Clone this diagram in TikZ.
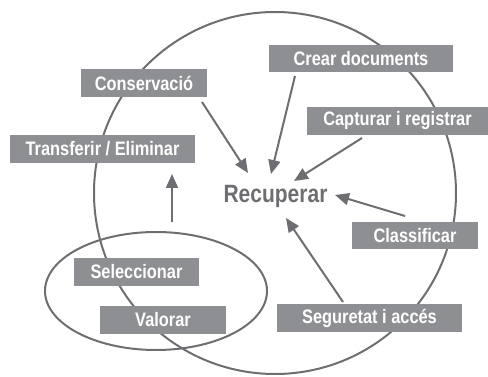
\documentclass[tikz,border=0pt]{standalone}
\usepackage{fontspec}
\setmainfont{Liberation Sans}[FakeStretch=0.84]
\usetikzlibrary{arrows.meta}
\definecolor{boxgray}{HTML}{8E8F92}
\definecolor{linegray}{HTML}{6D6E71}
\begin{document}
\begin{tikzpicture}[x=1pt,y=-1pt,
  lbl/.style={fill=boxgray,text=white,font=\fontsize{19.5}{21}\selectfont\bfseries,
    inner sep=0pt,minimum height=28pt,anchor=center},
  ring/.style={draw=linegray,line width=2pt},
  arr/.style={draw=linegray,line width=2pt,-{Triangle[length=14pt,width=12pt]}}]
\useasboundingbox (0,0) rectangle (488,377);
% outlines
\draw[ring] (275,193) circle[radius=181];
\draw[ring] (156,291) ellipse[x radius=111,y radius=59];
% labels
\node[lbl,minimum width=126pt] (cons) at (144,83) {Conservació};
\node[lbl,minimum width=185pt] (trans) at (102.5,149) {Transferir / Eliminar};
\node[lbl,minimum width=184pt,minimum height=27pt] (crear) at (361,58.5) {Crear documents};
\node[lbl,minimum width=181pt] (capt) at (397.5,121) {Capturar i registrar};
\node[lbl,minimum width=126pt,minimum height=27pt] (class) at (415,235.5) {Classificar};
\node[lbl,minimum width=185pt] (seg) at (369.5,318) {Seguretat i accés};
\node[lbl,minimum width=125pt] (sel) at (136.5,272) {Seleccionar};
\node[lbl,minimum width=126pt] (val) at (163,320) {Valorar};
\node[text=linegray,font=\fontsize{25}{27}\selectfont\bfseries,inner sep=0pt] (rec) at (275.5,196) {Recuperar};
% connector ends
\coordinate (consS) at (202,102);
\coordinate (consT) at (248,173);
\coordinate (crearS) at (295,76);
\coordinate (crearT) at (271,174);
\coordinate (captS) at (362,138);
\coordinate (captT) at (294,181);
\coordinate (classS) at (405,216);
\coordinate (classT) at (335,195);
\coordinate (segS) at (343,302);
\coordinate (segT) at (286,218);
\coordinate (selS) at (172,222);
\coordinate (selT) at (172,174);
% arrows
\draw[arr] (consS) -- (consT);
\draw[arr] (crearS) -- (crearT);
\draw[arr] (captS) -- (captT);
\draw[arr] (classS) -- (classT);
\draw[arr] (segS) -- (segT);
\draw[arr] (selS) -- (selT);
\end{tikzpicture}
\end{document}
